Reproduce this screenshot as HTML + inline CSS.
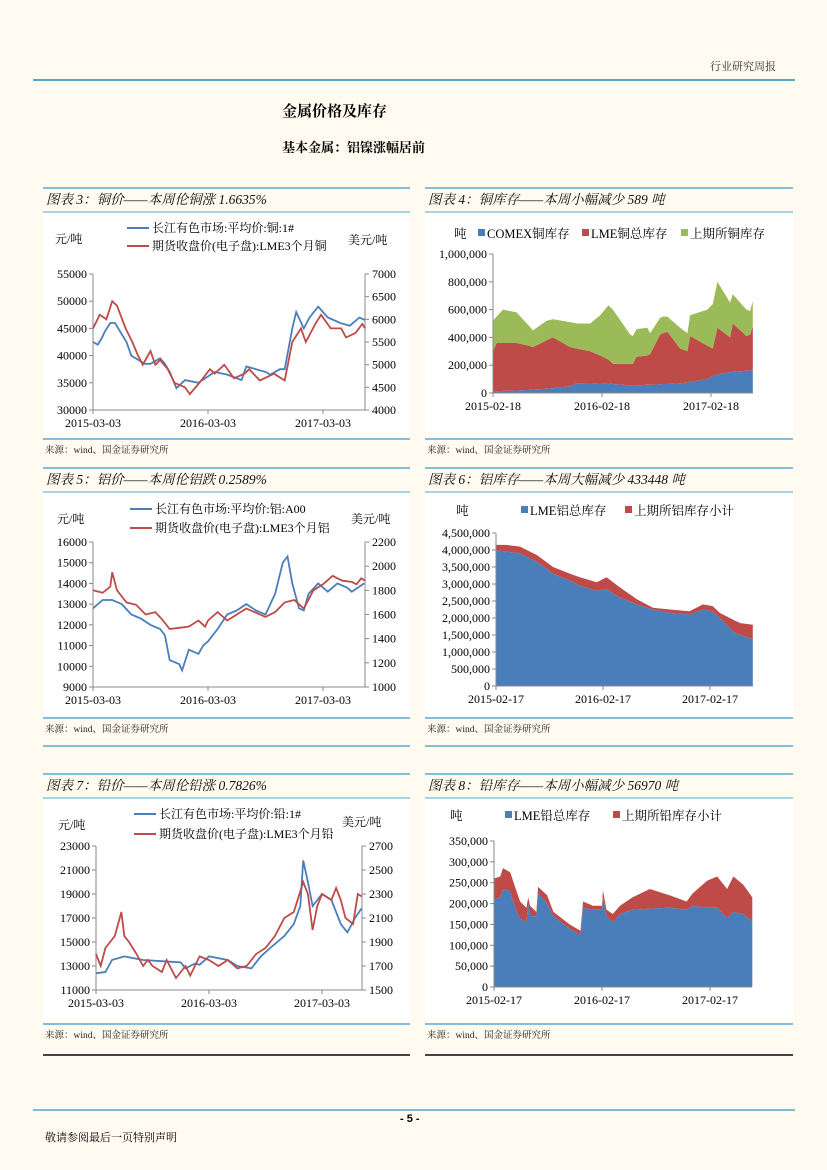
<!DOCTYPE html>
<html><head><meta charset="utf-8">
<style>
html,body{margin:0;padding:0;background:#fffbf0;}
body{width:827px;height:1170px;position:relative;overflow:hidden;font-family:"Liberation Serif","Noto Serif CJK SC",serif;}
.abs{position:absolute;white-space:nowrap;}
svg{position:absolute;left:0;top:0;}
</style></head><body>
<div class="abs" style="left:710px;top:58px;font-size:11px;color:#333;font-family:'Noto Serif CJK SC',serif;">行业研究周报</div>
<div class="abs" style="left:282px;top:100px;font-size:15px;font-weight:bold;font-family:'Noto Serif CJK SC',serif;">金属价格及库存</div>
<div class="abs" style="left:282px;top:137px;font-size:13px;font-weight:bold;font-family:'Noto Serif CJK SC',serif;">基本金属：铝镍涨幅居前</div>
<div class="abs" style="left:400px;top:1113px;font-size:11px;font-weight:bold;font-family:'Liberation Sans',sans-serif;">- 5 -</div>
<div class="abs" style="left:45px;top:1129px;font-size:11px;font-family:'Noto Serif CJK SC',serif;">敬请参阅最后一页特别声明</div>
<svg id="pg" width="827" height="1170" xmlns="http://www.w3.org/2000/svg"></svg>
<script>
// ===== Chart 3: copper price =====
const cuBlueM=[0,0.5,1,1.2,1.8,2.3,3.5,4,5.4,6,7,7.5,8,8.7,9.6,11,12.7,14,15.5,16,18,18.5,19.5,20,20.8,21.2,22,22.6,23.5,24.5,25.8,26.8,27.8,28.4];
const cuBlueV=[42500,42000,43500,44300,46000,46000,42500,40000,38500,38500,39500,38500,37000,34000,35500,35000,37000,36500,35500,38000,37000,36500,37500,37500,45000,48000,45000,47000,49000,47000,46000,45500,47000,46500];
const cuRedM=[0,0.7,1.4,2,2.5,3.4,4.1,4.7,5.2,6,6.5,7,7.8,8.5,9.6,10.1,11.1,12.2,12.7,13.7,14.7,15.8,16.3,17.4,18.9,20,20.8,21.7,22.2,23.2,23.8,24.8,25.9,26.4,27.4,28.1,28.4];
const cuRedV=[5800,6100,6000,6400,6300,5800,5500,5200,5000,5300,5000,5100,4900,4600,4500,4350,4600,4900,4800,5000,4700,4800,4900,4650,4800,4650,5500,5800,5500,5900,6100,5800,5800,5600,5700,5900,5800];
// ===== Chart 5: aluminium price =====
const alBlueM=[0,1,2,3,4,5,6,7,7.5,8,9,9.3,10,11,11.5,12,13,14,15,16,17,18,19,19.8,20.3,20.8,21.5,22,22.5,23.5,24.5,25.5,26.5,27,28.3];
const alBlueV=[12800,13200,13200,13000,12500,12300,12000,11800,11500,10300,10100,9800,10800,10600,11000,11200,11800,12500,12700,13000,12700,12500,13500,15000,15300,14000,12800,12700,13500,14000,13600,14000,13800,13600,14000];
const alRedM=[0,1,1.8,2,2.5,3.5,4.5,5.5,6.5,7.2,8,9,10,11,11.7,12,13,14,15,16,18,19,20,21,22,23,24,25,26,27,27.5,28,28.4];
const alRedV=[1800,1780,1830,1950,1800,1700,1680,1600,1620,1560,1480,1490,1500,1550,1500,1550,1620,1550,1600,1650,1580,1620,1700,1720,1650,1800,1850,1920,1880,1870,1850,1900,1880];
// ===== Chart 7: lead price =====
const pbBlueM=[0,1,1.7,3,5,7,9,9.5,10.5,11,12,14,15,16.5,17.5,18.5,20,21,21.7,22,22.5,23,24,25,26,26.7,27.5,28.2];
const pbBlueV=[12400,12500,13500,13800,13500,13400,13300,12800,13200,13100,13800,13500,13000,12800,13800,14500,15500,16500,18000,21800,20000,18000,19000,18500,16500,15800,17000,17800];
const pbRedM=[0,0.5,1,2,2.7,3,3.5,4.3,5,5.5,6,7,7.5,8.5,9.5,10,11,12,13,14,15,16,17,18,19,20,21,22,22.5,23,23.5,24,25,25.5,26,26.5,27.3,27.8,28.2];
const pbRedV=[1800,1700,1850,1950,2150,1950,1900,1800,1700,1750,1700,1650,1750,1600,1700,1620,1780,1750,1700,1750,1680,1700,1800,1850,1950,2100,2150,2400,2300,2000,2200,2300,2250,2350,2250,2100,2050,2300,2280];
// ===== Chart 4: copper inventory (thousand t) =====
const cuInvM=[0,0.4,1.1,2.6,4,4.4,5.9,6.6,8.5,9.2,10.7,11.8,12.7,13.2,15.1,15.4,15.8,17,17.3,18.4,18.7,19.2,20.6,21.4,21.7,23.6,24.2,24.7,26.1,26.4,27.9,28.3,28.6];
const cuComex=[10,12,15,18,22,25,30,35,50,70,68,65,68,65,55,55,55,60,60,62,65,65,70,75,80,100,125,135,150,152,160,162,165];
const cuLme=[290,348,345,342,318,305,350,365,280,250,232,205,172,145,155,155,205,210,220,358,365,375,250,225,330,240,195,335,250,348,250,258,315];
const cuShfe=[220,190,240,220,140,120,140,130,180,180,200,290,390,390,210,200,200,200,150,120,120,110,150,130,150,260,320,330,250,210,190,170,180];
// ===== Chart 6: aluminium inventory (thousand t) =====
const alInvM=[0,1.2,2.7,4.6,6.4,8.3,9.4,11.3,12.4,13.9,15.8,17.6,19.5,21.7,23.2,24.3,25.1,26.6,27.4,28.8];
const alLme=[4000,3950,3900,3650,3300,3100,2950,2800,2850,2600,2400,2250,2150,2100,2250,2200,2000,1600,1500,1380];
const alShfe=[150,200,200,200,200,200,250,250,350,300,150,50,100,100,150,150,150,350,350,420];
// ===== Chart 8: lead inventory (thousand t) =====
const pbInvM=[0,0.7,1,1.8,2.5,2.9,3.6,3.8,4,4.7,4.9,5.9,6.6,8.4,9.6,9.9,11,12,12.1,12.5,13.2,14,15.4,17.3,19.5,21.4,22.1,23.7,24.8,25.9,26.6,27.7,28.7];
const pbLme=[210,215,235,230,180,165,155,200,170,170,225,200,170,140,125,190,185,185,215,170,155,175,185,188,190,185,195,190,190,165,180,175,158];
const pbShfe=[50,50,50,45,50,40,35,15,25,10,15,20,10,10,10,15,10,10,17,15,20,20,30,47,30,20,30,65,75,70,85,70,57];

const svg=document.getElementById('pg');
const NS='http://www.w3.org/2000/svg';
function mk(tag,attrs,parent,text){const e=document.createElementNS(NS,tag);for(const k in attrs)e.setAttribute(k,attrs[k]);if(text!==undefined)e.textContent=text;(parent||svg).appendChild(e);return e;}
const BLUE='#4a7ebb',RED='#be4b48',GREEN='#9bbb59',LINE='#5aa9cf';
const TF='"Liberation Serif","Noto Serif CJK SC",serif';
function fmt(v){return v.toLocaleString('en-US');}

// page header lines
let e=mk('line',{x1:33,y1:80,x2:795,y2:80,stroke:'#5aa5c8','stroke-width':2});


e=mk('line',{x1:33,y1:1110,x2:795,y2:1110,stroke:'#5aa5c8','stroke-width':1.5});



function panel(x0,x1,row,title,name,dark){
  const g=mk('g',{});
  
  
  const t=row.top;
  mk('rect',{x:x0,y:t+25,width:x1-x0,height:row.wb-t-25,fill:'#ffffff'},g);
  mk('line',{x1:x0,y1:t,x2:x1,y2:t,stroke:LINE,'stroke-width':1.5},g);
  mk('line',{x1:x0,y1:t+24,x2:x1,y2:t+24,stroke:LINE,'stroke-width':1},g);
  const tt=mk('text',{x:x0+3,y:t+16,'font-size':13.5,'font-style':'italic','font-family':TF,fill:'#111'},g,title);
  
  
  mk('line',{x1:x0,y1:row.wb+2,x2:x1,y2:row.wb+2,stroke:LINE,'stroke-width':1.5},g);
  const s=mk('text',{x:x0+2,y:row.wb+16,'font-size':9.5,'font-family':TF,fill:'#222'},g,'来源：wind、国金证券研究所');
  
  
  if(row.bot){mk('line',{x1:x0,y1:row.bot,x2:x1,y2:row.bot,stroke:dark?'#444':LINE,'stroke-width':dark?2:1.5},g);}
  return g;
}
function axisFn(d0,d1,p0,p1){return v=>p0+(v-d0)/(d1-d0)*(p1-p0);}

function xTicks(g,X,y,xt,labels){
  mk('line',{x1:X(0),y1:y,x2:X(xt[xt.length-1]),y2:y,stroke:'#888','stroke-width':1},g);
}

function lineChart(c){
  const g=mk('g',{});
  
  
  const X=axisFn(0,12,c.px0,c.px12);
  const YL=axisFn(c.l0,c.l1,c.pyB,c.pyT),YR=axisFn(c.r0,c.r1,c.pyB,c.pyT);
  // axes
  mk('line',{x1:c.px0,y1:c.pyB,x2:c.pxE,y2:c.pyB,stroke:'#888'},g);
  mk('line',{x1:c.px0,y1:c.pyB,x2:c.px0,y2:c.pyT,stroke:'#888'},g);
  mk('line',{x1:c.pxE,y1:c.pyB,x2:c.pxE,y2:c.pyT,stroke:'#888'},g);
  for(let v=c.l0;v<=c.l1;v+=c.ls){const y=YL(v);mk('line',{x1:c.px0-4,y1:y,x2:c.px0,y2:y,stroke:'#888'},g);
    const t=mk('text',{x:c.px0-6,y:y+4,'text-anchor':'end','font-size':12,'font-family':TF},g,String(v));
    
    }
  for(let v=c.r0;v<=c.r1;v+=c.rs){const y=YR(v);mk('line',{x1:c.pxE,y1:y,x2:c.pxE+4,y2:y,stroke:'#888'},g);
    const t=mk('text',{x:c.pxE+7,y:y+4,'font-size':12,'font-family':TF},g,String(v));
    
    }
  c.xl.forEach((l,i)=>{const x=X(i*12);mk('line',{x1:x,y1:c.pyB,x2:x,y2:c.pyB+4,stroke:'#888'},g);
    const t=mk('text',{x:x,y:c.pyB+17,'text-anchor':'middle','font-size':12,'font-family':TF},g,l);
    
    });
  const p1=mk('polyline',{points:c.bm.map((m,i)=>X(m).toFixed(1)+','+YL(c.bv[i]).toFixed(1)).join(' '),fill:'none',stroke:BLUE,'stroke-width':1.8},g);
  
  
  const p2=mk('polyline',{points:c.rm.map((m,i)=>X(m).toFixed(1)+','+YR(c.rv[i]).toFixed(1)).join(' '),fill:'none',stroke:RED,'stroke-width':1.8},g);
  
  
  // legend
  [[BLUE,c.leg[0],c.ly1],[RED,c.leg[1],c.ly2]].forEach(([col,txt,y])=>{
    const lg=mk('g',{},g);
    
    
    mk('line',{x1:c.lx,y1:y-4,x2:c.lx+22,y2:y-4,stroke:col,'stroke-width':2},lg);
    mk('text',{x:c.lx+25,y:y,'font-size':12,'font-family':TF},lg,txt);
  });
  let t=mk('text',{x:c.ulx,y:c.uly,'font-size':12,'font-family':TF},g,'元/吨');
  
  
  t=mk('text',{x:c.urx,y:c.ury,'font-size':12,'font-family':TF},g,'美元/吨');
  
  
}

function stackChart(c){
  const g=mk('g',{});
  
  
  const X=axisFn(0,12,c.px0,c.px12),Y=axisFn(0,c.max,c.pyB,c.pyT);
  let base=c.m.map(()=>0);
  c.series.forEach((s,si)=>{
    const top=base.map((b,i)=>b+s[i]);
    const pts=c.m.map((m,i)=>X(m).toFixed(1)+','+Y(top[i]).toFixed(1)).concat(c.m.map((m,i)=>X(m).toFixed(1)+','+Y(base[i]).toFixed(1)).reverse());
    const p=mk('polygon',{points:pts.join(' '),fill:c.colors[si]},g);
    
    
    base=top;
  });
  mk('line',{x1:c.px0,y1:c.pyB,x2:c.pxE,y2:c.pyB,stroke:'#888'},g);
  mk('line',{x1:c.px0,y1:c.pyB,x2:c.px0,y2:c.pyT,stroke:'#888'},g);
  for(let v=0;v<=c.max;v+=c.step){const y=Y(v);mk('line',{x1:c.px0-4,y1:y,x2:c.px0,y2:y,stroke:'#888'},g);
    const t=mk('text',{x:c.px0-6,y:y+4,'text-anchor':'end','font-size':12,'font-family':TF},g,fmt(v*1000));
    
    }
  c.xl.forEach((l,i)=>{const x=X(i*12);mk('line',{x1:x,y1:c.pyB,x2:x,y2:c.pyB+4,stroke:'#888'},g);
    const t=mk('text',{x:x,y:c.pyB+17,'text-anchor':'middle','font-size':12,'font-family':TF},g,l);
    
    });
  let t=mk('text',{x:c.ux,y:c.ly,'font-size':12.5,'font-family':TF},g,'吨');
  
  
  c.leg.forEach((l,i)=>{const lg=mk('g',{},g);
    
    
    mk('rect',{x:l[1],y:c.ly-9,width:7,height:7,fill:c.colors[i]},lg);
    mk('text',{x:l[1]+9,y:c.ly,'font-size':12.5,'font-family':TF},lg,l[0]);});
}

const rows=[{top:188,wb:437},{top:468,wb:716,bot:746},{top:774,wb:1022,bot:1055}];
panel(43,410,rows[0],'图表 3：铜价——本周伦铜涨 1.6635%','copper-price');
panel(425,793,rows[0],'图表 4：铜库存——本周小幅减少 589 吨','copper-inventory');
panel(43,410,rows[1],'图表 5：铝价——本周伦铝跌 0.2589%','aluminium-price');
panel(425,793,rows[1],'图表 6：铝库存——本周大幅减少 433448 吨','aluminium-inventory');
panel(43,410,rows[2],'图表 7：铅价——本周伦铅涨 0.7826%','lead-price',true);
panel(425,793,rows[2],'图表 8：铅库存——本周小幅减少 56970 吨','lead-inventory',true);

const XP=['2015-03-03','2016-03-03','2017-03-03'];
lineChart({name:'copper-price-chart',px0:93,px12:208,pxE:365,pyT:274,pyB:410,l0:30000,l1:55000,ls:5000,r0:4000,r1:7000,rs:500,
  bm:cuBlueM,bv:cuBlueV,rm:cuRedM,rv:cuRedV,xl:XP,leg:['长江有色市场:平均价:铜:1#','期货收盘价(电子盘):LME3个月铜'],lx:127,ly1:232,ly2:250,ulx:55,uly:243,urx:348,ury:244});
lineChart({name:'aluminium-price-chart',px0:93,px12:208,pxE:365,pyT:542,pyB:687,l0:9000,l1:16000,ls:1000,r0:1000,r1:2200,rs:200,
  bm:alBlueM,bv:alBlueV,rm:alRedM,rv:alRedV,xl:XP,leg:['长江有色市场:平均价:铝:A00','期货收盘价(电子盘):LME3个月铝'],lx:130,ly1:513,ly2:532,ulx:57,uly:523,urx:351,ury:523});
lineChart({name:'lead-price-chart',px0:96,px12:209,pxE:362,pyT:846,pyB:990,l0:11000,l1:23000,ls:2000,r0:1500,r1:2700,rs:200,
  bm:pbBlueM,bv:pbBlueV,rm:pbRedM,rv:pbRedV,xl:XP,leg:['长江有色市场:平均价:铅:1#','期货收盘价(电子盘):LME3个月铅'],lx:134,ly1:818,ly2:838,ulx:58,uly:829,urx:342,ury:826});
stackChart({name:'copper-inventory-chart',px0:493,px12:602,pxE:753,pyT:254,pyB:393,max:1000,step:200,m:cuInvM,series:[cuComex,cuLme,cuShfe],keys:['comex','lme','shfe'],colors:[BLUE,RED,GREEN],
  xl:['2015-02-18','2016-02-18','2017-02-18'],ux:454,ly:238,leg:[['COMEX铜库存',478],['LME铜总库存',582],['上期所铜库存',681]]});
stackChart({name:'aluminium-inventory-chart',px0:496,px12:603,pxE:753,pyT:533,pyB:686,max:4500,step:500,m:alInvM,series:[alLme,alShfe],keys:['lme','shfe'],colors:[BLUE,RED],
  xl:['2015-02-17','2016-02-17','2017-02-17'],ux:456,ly:515,leg:[['LME铝总库存',521],['上期所铝库存小计',625]]});
stackChart({name:'lead-inventory-chart',px0:494,px12:602,pxE:752,pyT:841,pyB:987,max:350,step:50,m:pbInvM,series:[pbLme,pbShfe],keys:['lme','shfe'],colors:[BLUE,RED],
  xl:['2015-02-17','2016-02-17','2017-02-17'],ux:450,ly:820,leg:[['LME铅总库存',505],['上期所铅库存小计',613]]});
</script>
</body></html>
